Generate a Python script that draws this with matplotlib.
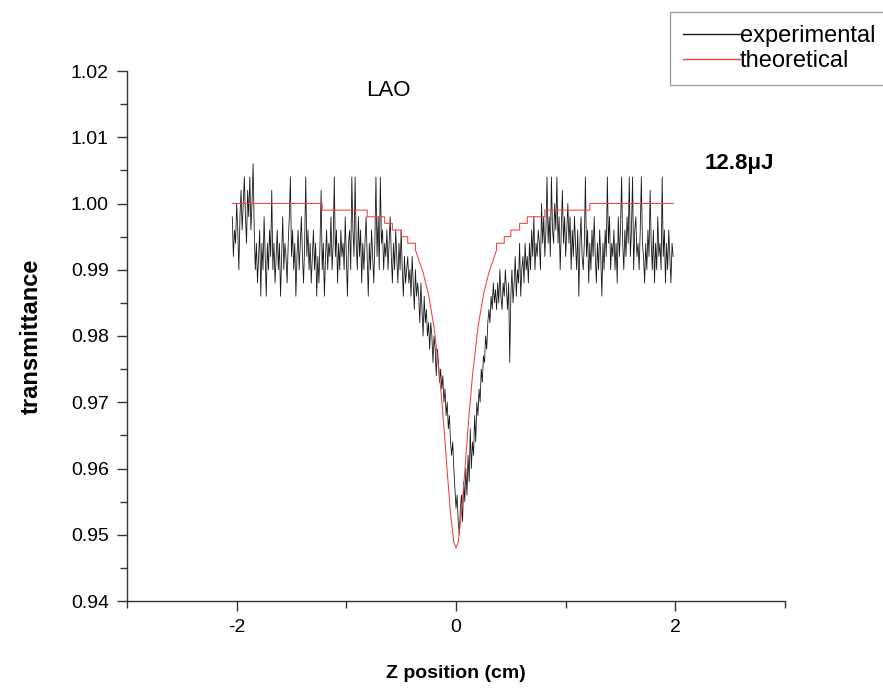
import numpy as np
import matplotlib
matplotlib.use("Agg")
import matplotlib.pyplot as plt
from matplotlib.ticker import MultipleLocator

plt.rcParams['font.family'] = ['Liberation Sans', 'DejaVu Sans']

# ---------------- data ----------------
z_start, z_stop = -2.04, 1.98
exp_t = [
    0.998, 0.992, 0.996, 0.994, 1.000, 0.996, 0.990, 0.998, 1.002, 0.996,
    1.000, 1.004, 0.998, 0.994, 1.002, 0.998, 1.004, 0.996, 1.000, 1.006,
    0.996, 0.990, 0.994, 0.988, 0.992, 0.996, 0.986, 0.994, 0.990, 0.998,
    0.992, 0.986, 0.994, 0.990, 0.996, 0.992, 1.002, 0.990, 0.994, 0.988,
    0.992, 0.996, 0.990, 0.994, 0.986, 0.992, 0.998, 0.990, 0.994, 0.992,
    0.988, 0.994, 0.998, 1.004, 0.992, 0.996, 0.990, 0.994, 0.986, 0.992,
    0.996, 0.990, 0.994, 0.998, 0.992, 0.988, 0.994, 1.004, 0.992, 0.996,
    0.990, 0.994, 0.988, 0.992, 0.996, 0.990, 0.994, 0.986, 0.992, 0.988,
    0.994, 1.002, 0.990, 0.994, 0.986, 0.992, 0.996, 0.990, 0.994, 0.992,
    0.998, 0.990, 0.994, 1.004, 0.992, 0.996, 0.988, 0.994, 0.990, 0.996,
    0.992, 0.994, 0.990, 0.998, 0.992, 0.986, 0.994, 0.996, 0.990, 1.004,
    0.996, 0.992, 1.004, 0.994, 0.990, 0.998, 0.992, 0.996, 0.988, 0.994,
    0.990, 0.994, 0.998, 0.992, 0.986, 0.994, 0.990, 0.996, 0.992, 0.988,
    0.994, 1.004, 0.992, 0.998, 0.990, 1.004, 0.994, 0.996, 0.990, 0.994,
    0.992, 0.996, 0.990, 0.994, 0.998, 0.992, 0.988, 0.994, 0.990, 0.996,
    0.992, 0.988, 0.994, 0.990, 0.996, 0.990, 0.986, 0.992, 0.988, 0.990,
    0.992, 0.988, 0.990, 0.986, 0.992, 0.988, 0.984, 0.990, 0.986, 0.988,
    0.986, 0.982, 0.988, 0.984, 0.980, 0.986, 0.982, 0.984, 0.980, 0.982,
    0.978, 0.982, 0.980, 0.976, 0.980, 0.978, 0.974, 0.978, 0.976, 0.973,
    0.975, 0.972, 0.974, 0.970, 0.972, 0.968, 0.970, 0.966, 0.968, 0.964,
    0.962, 0.964, 0.960, 0.957, 0.954, 0.956, 0.952, 0.950, 0.954, 0.956,
    0.952, 0.958, 0.955, 0.960, 0.956, 0.962, 0.958, 0.966, 0.960, 0.964,
    0.962, 0.968, 0.964, 0.970, 0.968, 0.972, 0.970, 0.975, 0.973, 0.977,
    0.976, 0.980, 0.978, 0.982, 0.984, 0.982, 0.986, 0.984, 0.988, 0.985,
    0.987, 0.984, 0.988, 0.985, 0.990, 0.986, 0.984, 0.988, 0.986, 0.990,
    0.987, 0.984, 0.988, 0.976, 0.986, 0.990, 0.985, 0.988, 0.992, 0.986,
    0.990, 0.988, 0.994, 0.986, 0.990, 0.992, 0.988, 0.994, 0.990, 0.992,
    0.988, 0.994, 0.990, 0.996, 0.992, 0.998, 0.990, 0.994, 0.992, 0.996,
    0.994, 0.990, 1.000, 0.994, 0.998, 0.992, 0.996, 1.004, 0.994, 0.998,
    0.992, 1.004, 0.996, 0.994, 1.000, 0.996, 1.004, 0.994, 0.998, 0.990,
    0.996, 1.002, 0.994, 0.998, 0.992, 0.996, 1.000, 0.994, 0.998, 0.990,
    0.996, 0.992, 0.998, 0.994, 0.990, 0.996, 0.986, 0.994, 0.998, 0.992,
    0.990, 0.994, 1.004, 0.992, 0.996, 0.988, 0.994, 0.990, 0.996, 0.992,
    0.998, 0.992, 0.988, 0.994, 0.990, 0.996, 0.992, 0.986, 0.994, 0.990,
    0.996, 0.992, 1.004, 0.994, 0.998, 0.990, 0.994, 0.992, 0.996, 0.990,
    0.994, 0.988, 0.998, 0.992, 0.996, 1.004, 0.994, 0.990, 0.996, 0.992,
    0.998, 0.994, 1.004, 0.992, 0.996, 1.004, 0.990, 0.996, 0.998, 0.992,
    0.994, 0.990, 0.996, 1.004, 0.994, 0.992, 0.988, 0.994, 0.990, 0.996,
    0.992, 1.002, 0.994, 0.990, 0.996, 0.988, 0.994, 0.990, 0.998, 0.992,
    0.994, 0.990, 1.004, 0.992, 0.996, 0.988, 0.994, 0.990, 0.996, 0.992,
    0.988, 0.994, 0.992,
]
exp_z = np.linspace(z_start, z_stop, len(exp_t))

theo_z = [-2.04, -1.22, -1.22, -0.81, -0.81, -0.65, -0.65, -0.58, -0.58, -0.50,
          -0.50, -0.44, -0.44, -0.37, -0.37, -0.33, -0.30, -0.25, -0.20, -0.15,
          -0.12, -0.10, -0.08, -0.05, -0.02, 0.00, 0.02, 0.05, 0.08, 0.10,
          0.12, 0.15, 0.20, 0.25, 0.30, 0.33, 0.37, 0.37, 0.44, 0.44,
          0.50, 0.50, 0.58, 0.58, 0.65, 0.65, 0.81, 0.81, 1.22, 1.22, 1.98]
theo_t = [1.000, 1.000, 0.999, 0.999, 0.998, 0.998, 0.997, 0.997, 0.996, 0.996,
          0.995, 0.995, 0.994, 0.994, 0.993, 0.991, 0.9896, 0.9862, 0.9813, 0.974,
          0.9683, 0.964, 0.9595, 0.9532, 0.9489, 0.948, 0.9489, 0.9532, 0.9595, 0.964,
          0.9683, 0.974, 0.9813, 0.9862, 0.9896, 0.991, 0.993, 0.994, 0.994, 0.995,
          0.995, 0.996, 0.996, 0.997, 0.997, 0.998, 0.998, 0.999, 0.999, 1.000, 1.000]

x_ticks = [-2, 0, 2]
y_ticks = [0.94, 0.95, 0.96, 0.97, 0.98, 0.99, 1.00, 1.01, 1.02]

# ---------------- figure ----------------
W, H = 883, 689
fig = plt.figure(figsize=(W / 100, H / 100), dpi=100)
ax = fig.add_axes([127 / W, 1 - 601 / H, (785 - 127) / W, (601 - 71) / H])

l1, = ax.plot(exp_z, exp_t, color='#1a1a1a', lw=0.6, label='experimental')
l2, = ax.plot(theo_z, theo_t, color='#f04040', lw=0.75, label='theoretical')

ax.set_xlim(-3, 3)
ax.set_ylim(0.94, 1.02)
ax.set_xticks(x_ticks)
ax.set_xticklabels([f"{v:d}" for v in x_ticks])
ax.set_yticks(y_ticks)
ax.set_yticklabels([f"{v:.2f}" for v in y_ticks])
ax.xaxis.set_minor_locator(MultipleLocator(1))
ax.yaxis.set_minor_locator(MultipleLocator(0.005))

for s in ['top', 'right']:
    ax.spines[s].set_visible(False)
for s in ['left', 'bottom']:
    ax.spines[s].set_color('#333333')
    ax.spines[s].set_linewidth(1.0)

ax.tick_params(which='major', direction='out', length=7, width=1.0,
               color='#333333', labelsize=14, pad=6)
ax.tick_params(which='minor', direction='out', length=5, width=1.0, color='#333333')

ax.set_xlabel('Z position (cm)', fontsize=14, fontweight='bold', labelpad=21)
ax.set_ylabel('transmittance', fontsize=17, fontweight='bold', labelpad=20)

ax.text(-0.62, 1.0170, 'LAO', fontsize=16, ha='center', va='center')
ax.text(2.27, 1.0061, '12.8μJ', fontsize=16, fontweight='bold', ha='left', va='center')

leg = fig.legend(handles=[l1, l2], loc='upper left',
                 bbox_to_anchor=(670 / W, 1 - 12 / H), fontsize=17,
                 handlelength=2.4, handletextpad=0.0, borderpad=0.55,
                 labelspacing=0.12, frameon=True, fancybox=False,
                 borderaxespad=0)
leg.get_frame().set_edgecolor('#888888')
leg.get_frame().set_linewidth(1.0)
for ln in leg.get_lines():
    ln.set_linewidth(1.0)

fig.savefig('out.png', dpi=100)
